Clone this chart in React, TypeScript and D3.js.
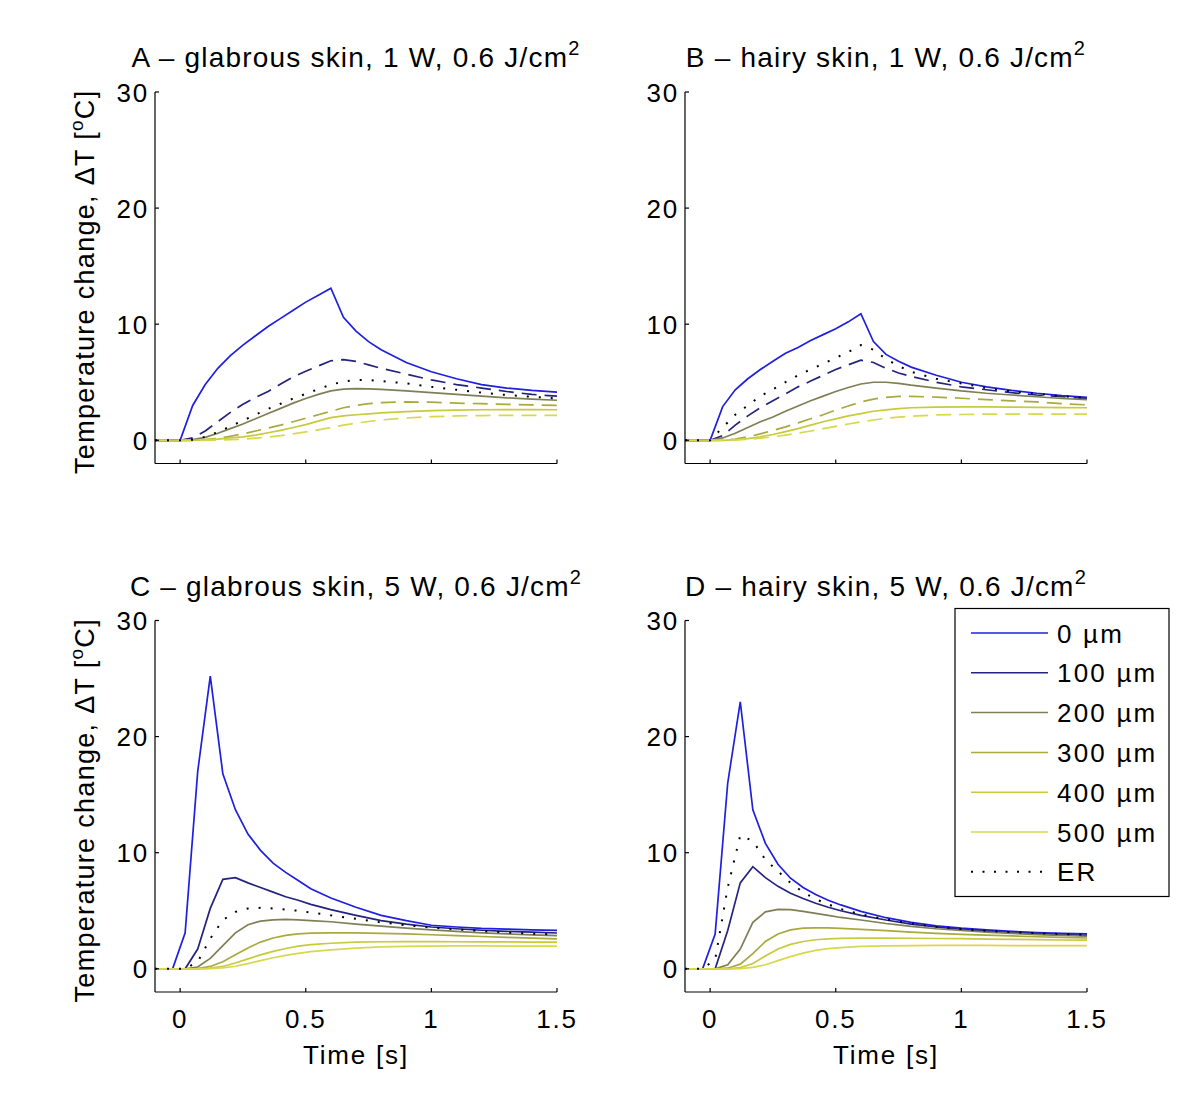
import React from "react";
import * as d3 from "d3";

// time samples (s)
const time1W = [-0.1, 0, 0.05, 0.1, 0.15, 0.2, 0.25, 0.3, 0.35, 0.4, 0.45, 0.5, 0.55, 0.6, 0.65, 0.7, 0.75, 0.8, 0.9, 1.0, 1.1, 1.2, 1.3, 1.4, 1.5];
const time5W = [-0.1, -0.03, 0.02, 0.07, 0.12, 0.17, 0.22, 0.27, 0.32, 0.37, 0.42, 0.47, 0.52, 0.6, 0.7, 0.8, 0.9, 1.0, 1.1, 1.2, 1.3, 1.4, 1.5];

const depthLabels = ["0 µm", "100 µm", "200 µm", "300 µm", "400 µm", "500 µm", "ER"];
const depthColors = ["#1f1fe0", "#24247f", "#7f7f56", "#a9a93e", "#c9c93c", "#d8d84e", "#000000"];

const xTicks = [0, 0.5, 1, 1.5];
const yTicks = [0, 10, 20, 30];

// A - glabrous, 1 W
const a0 = [0, 0, 3.0, 4.8, 6.2, 7.3, 8.2, 9.0, 9.8, 10.5, 11.2, 11.9, 12.5, 13.1, 10.6, 9.4, 8.5, 7.8, 6.7, 5.9, 5.3, 4.8, 4.5, 4.3, 4.15];
const a100 = [0, 0, 0.2, 0.8, 1.6, 2.4, 3.1, 3.7, 4.2, 4.85, 5.45, 5.95, 6.4, 6.85, 6.95, 6.8, 6.5, 6.2, 5.7, 5.2, 4.8, 4.5, 4.2, 3.95, 3.8];
const a200 = [0, 0, 0.05, 0.25, 0.6, 1.0, 1.4, 1.85, 2.3, 2.75, 3.2, 3.6, 3.95, 4.25, 4.4, 4.45, 4.42, 4.38, 4.25, 4.1, 3.95, 3.8, 3.65, 3.55, 3.45];
const a300 = [0, 0, 0, 0.05, 0.15, 0.35, 0.55, 0.8, 1.05, 1.3, 1.6, 1.9, 2.2, 2.5, 2.8, 3.0, 3.15, 3.25, 3.3, 3.28, 3.2, 3.15, 3.1, 3.05, 3.0];
const a400 = [0, 0, 0, 0.03, 0.1, 0.2, 0.3, 0.45, 0.65, 0.85, 1.1, 1.35, 1.65, 1.95, 2.1, 2.2, 2.28, 2.36, 2.47, 2.56, 2.6, 2.63, 2.64, 2.64, 2.63];
const a500 = [0, 0, 0, 0, 0.02, 0.05, 0.1, 0.18, 0.28, 0.4, 0.55, 0.72, 0.9, 1.1, 1.3, 1.48, 1.62, 1.75, 1.92, 2.03, 2.1, 2.13, 2.15, 2.15, 2.15];
const aER = [0, 0, 0.05, 0.3, 0.7, 1.2, 1.7, 2.2, 2.7, 3.15, 3.6, 4.0, 4.4, 4.8, 5.05, 5.2, 5.2, 5.1, 4.9, 4.6, 4.35, 4.1, 3.9, 3.75, 3.6];

// B - hairy, 1 W
const b0 = [0, 0, 2.9, 4.35, 5.3, 6.1, 6.8, 7.5, 8.0, 8.6, 9.1, 9.6, 10.2, 10.9, 8.5, 7.4, 6.8, 6.3, 5.6, 5.0, 4.6, 4.3, 4.05, 3.85, 3.7];
const b100 = [0, 0, 0.4, 1.3, 2.1, 2.8, 3.4, 4.0, 4.6, 5.1, 5.6, 6.1, 6.5, 6.9, 6.7, 6.2, 5.8, 5.5, 5.0, 4.6, 4.35, 4.1, 3.9, 3.75, 3.6];
const b200 = [0, 0, 0.2, 0.6, 1.1, 1.6, 2.0, 2.5, 2.95, 3.4, 3.8, 4.2, 4.55, 4.85, 5.0, 5.0, 4.9, 4.75, 4.5, 4.25, 4.05, 3.9, 3.75, 3.6, 3.5];
const b300 = [0, 0, 0.02, 0.1, 0.3, 0.55, 0.85, 1.15, 1.5, 1.85, 2.2, 2.6, 2.95, 3.3, 3.55, 3.7, 3.78, 3.78, 3.72, 3.62, 3.5, 3.4, 3.3, 3.15, 3.05];
const b400 = [0, 0, 0, 0.05, 0.15, 0.3, 0.5, 0.75, 1.0, 1.3, 1.6, 1.85, 2.1, 2.3, 2.5, 2.62, 2.72, 2.8, 2.86, 2.88, 2.88, 2.86, 2.84, 2.82, 2.8];
const b500 = [0, 0, 0, 0.02, 0.08, 0.18, 0.3, 0.45, 0.62, 0.8, 1.0, 1.2, 1.4, 1.58, 1.75, 1.9, 2.0, 2.08, 2.18, 2.22, 2.25, 2.26, 2.26, 2.26, 2.25];
const bER = [0, 0, 1.1, 2.2, 3.0, 3.8, 4.4, 5.0, 5.6, 6.1, 6.6, 7.1, 7.6, 8.2, 7.8, 7.0, 6.4, 5.9, 5.3, 4.9, 4.5, 4.2, 4.0, 3.8, 3.65];

// C - glabrous, 5 W
const c0 = [0, 0, 3.1, 17.0, 25.2, 16.8, 13.7, 11.6, 10.2, 9.1, 8.3, 7.6, 6.9, 6.1, 5.3, 4.6, 4.15, 3.75, 3.6, 3.48, 3.42, 3.35, 3.3];
const c100 = [0, 0, 0, 1.7, 5.2, 7.7, 7.85, 7.4, 7.0, 6.6, 6.2, 5.9, 5.55, 5.1, 4.6, 4.15, 3.85, 3.6, 3.45, 3.32, 3.22, 3.15, 3.08];
const c200 = [0, 0, 0, 0.15, 0.9, 2.0, 3.1, 3.8, 4.1, 4.22, 4.25, 4.22, 4.15, 4.05, 3.85, 3.68, 3.5, 3.35, 3.22, 3.1, 3.0, 2.92, 2.85];
const c300 = [0, 0, 0, 0.02, 0.2, 0.6, 1.2, 1.8, 2.3, 2.65, 2.88, 3.0, 3.07, 3.1, 3.1, 3.05, 3.0, 2.93, 2.85, 2.78, 2.7, 2.64, 2.58];
const c400 = [0, 0, 0, 0, 0.05, 0.2, 0.5, 0.85, 1.2, 1.5, 1.75, 1.95, 2.08, 2.2, 2.3, 2.33, 2.34, 2.34, 2.33, 2.32, 2.31, 2.3, 2.29];
const c500 = [0, 0, 0, 0, 0.02, 0.08, 0.22, 0.45, 0.7, 0.95, 1.15, 1.32, 1.47, 1.63, 1.78, 1.88, 1.93, 1.96, 1.97, 1.97, 1.96, 1.96, 1.95];
const cER = [0, 0, 0, 0.6, 2.6, 4.2, 4.9, 5.2, 5.25, 5.2, 5.1, 5.0, 4.85, 4.6, 4.3, 4.0, 3.75, 3.55, 3.4, 3.25, 3.12, 3.03, 2.95];

// D - hairy, 5 W
const d0 = [0, 0, 3.0, 16.0, 23.0, 13.7, 10.8, 9.0, 7.8, 7.0, 6.4, 5.9, 5.5, 4.95, 4.4, 4.0, 3.7, 3.5, 3.35, 3.22, 3.12, 3.05, 3.0];
const d100 = [0, 0, 0, 3.3, 7.4, 8.8, 7.85, 7.1, 6.5, 6.05, 5.65, 5.3, 5.0, 4.6, 4.2, 3.85, 3.6, 3.4, 3.25, 3.12, 3.02, 2.95, 2.88];
const d200 = [0, 0, 0, 0.35, 1.7, 4.0, 4.9, 5.12, 5.1, 4.95, 4.78, 4.6, 4.42, 4.2, 3.9, 3.65, 3.45, 3.3, 3.15, 3.05, 2.95, 2.88, 2.8];
const d300 = [0, 0, 0, 0.05, 0.4, 1.3, 2.35, 3.0, 3.35, 3.5, 3.53, 3.52, 3.48, 3.4, 3.28, 3.15, 3.05, 2.97, 2.9, 2.83, 2.76, 2.7, 2.65];
const d400 = [0, 0, 0, 0, 0.1, 0.45, 1.1, 1.7, 2.1, 2.35, 2.5, 2.58, 2.62, 2.64, 2.64, 2.63, 2.61, 2.59, 2.56, 2.54, 2.51, 2.48, 2.46];
const d500 = [0, 0, 0, 0, 0.02, 0.12, 0.35, 0.7, 1.05, 1.35, 1.58, 1.73, 1.83, 1.93, 1.98, 2.0, 2.01, 2.01, 2.01, 2.0, 2.0, 2.0, 2.0];
const dER = [0, 0, 0.8, 7.0, 11.5, 11.0, 9.4, 8.4, 7.4, 6.6, 6.0, 5.55, 5.15, 4.7, 4.25, 3.9, 3.62, 3.42, 3.27, 3.15, 3.06, 2.99, 2.94];

const panels = [
  { letter: "A", skin: "glabrous", power: "1 W", left: 155, top: 92, time: time1W, series: [a0, a100, a200, a300, a400, a500, aER], dashed: true, yLabel: true, xLabels: false },
  { letter: "B", skin: "hairy", power: "1 W", left: 685, top: 92, time: time1W, series: [b0, b100, b200, b300, b400, b500, bER], dashed: true, yLabel: false, xLabels: false },
  { letter: "C", skin: "glabrous", power: "5 W", left: 155, top: 620.5, time: time5W, series: [c0, c100, c200, c300, c400, c500, cER], dashed: false, yLabel: true, xLabels: true },
  { letter: "D", skin: "hairy", power: "5 W", left: 685, top: 620.5, time: time5W, series: [d0, d100, d200, d300, d400, d500, dER], dashed: false, yLabel: false, xLabels: true },
];

const W = 402;
const H = 371.5;
const family = "'Liberation Sans', Arial, Helvetica, sans-serif";
const font = { fontFamily: family, fontSize: 26, letterSpacing: 1.8 };
const titleFont = { fontFamily: family, fontSize: 28, letterSpacing: 1.2 };
const ylabFont = { fontFamily: family, fontSize: 27, letterSpacing: 1.3 };

function dashFor(i, dashed) {
  if (i === 6) return "2 10";
  if (dashed && (i === 1 || i === 3 || i === 5)) return "15 8";
  return undefined;
}

const Panel = ({ p }) => {
  const x = d3.scaleLinear().domain([-0.1, 1.5]).range([p.left, p.left + W]);
  const y = d3.scaleLinear().domain([-2, 30]).range([p.top + H, p.top]);
  const line = d3.line().x(d => x(d[0])).y(d => y(d[1]));
  const bottom = p.top + H;
  const cx = p.left + W / 2;

  return (
    <g>
      {p.series.map((vals, i) => (
        <path key={i}
          d={line(p.time.map((t, k) => [t, vals[k]]))}
          fill="none"
          stroke={depthColors[i]}
          strokeWidth={i === 6 ? 2 : 1.7}
          strokeDasharray={dashFor(i, p.dashed)} />
      ))}
      <line x1={p.left} x2={p.left + W} y1={bottom} y2={bottom} stroke="#000" strokeWidth={1.2} />
      <line x1={p.left} x2={p.left} y1={p.top} y2={bottom} stroke="#000" strokeWidth={1.2} />
      {xTicks.map(t => (
        <g key={t}>
          <line x1={x(t)} x2={x(t)} y1={bottom} y2={bottom - 4} stroke="#000" strokeWidth={1.2} />
          {p.xLabels && <text x={x(t)} y={bottom + 36} textAnchor="middle" {...font}>{String(t)}</text>}
        </g>
      ))}
      {yTicks.map(t => (
        <g key={t}>
          <line x1={p.left} x2={p.left + 4} y1={y(t)} y2={y(t)} stroke="#000" strokeWidth={1.2} />
          <text x={p.left - 6} y={y(t) + 9.5} textAnchor="end" {...font}>{String(t)}</text>
        </g>
      ))}
      <text x={cx} y={p.top - 25} textAnchor="middle" {...titleFont}>
        {`${p.letter} – ${p.skin} skin, ${p.power}, 0.6 J/cm`}
        <tspan dx={0} dy={-12} fontSize={20}>2</tspan>
      </text>
      {p.yLabel && (
        <text transform={`translate(94, ${p.top + H / 2 + 4}) rotate(-90)`} textAnchor="middle" {...ylabFont}>
          Temperature change, ΔT [<tspan dy={-11} fontSize={19}>o</tspan><tspan dy={11}>C]</tspan>
        </text>
      )}
      {p.xLabels && <text x={cx} y={bottom + 72} textAnchor="middle" {...font}>Time [s]</text>}
    </g>
  );
};

const Legend = () => {
  const lx = 955, ly = 608.5, rowH = 39.8;
  return (
    <g>
      <rect x={lx} y={ly} width={214} height={288} fill="#fff" stroke="#000" strokeWidth={1.2} />
      {depthLabels.map((lab, i) => {
        const ry = ly + 24.5 + i * rowH;
        return (
          <g key={lab}>
            <line x1={lx + 16} x2={lx + 93} y1={ry} y2={ry} stroke={depthColors[i]} strokeWidth={i === 6 ? 2 : 1.5}
              strokeDasharray={i === 6 ? "2 9.5" : undefined} />
            <text x={lx + 102} y={ry + 9.5} {...font} letterSpacing={2.2}>{lab}</text>
          </g>
        );
      })}
    </g>
  );
};

export default function App() {
  return (
    <svg width={1200} height={1118} style={{ position: "absolute", left: 0, top: 0, background: "#fff" }}>
      <rect width={1200} height={1118} fill="#fff" />
      {panels.map(p => <Panel key={p.letter} p={p} />)}
      <Legend />
    </svg>
  );
}
